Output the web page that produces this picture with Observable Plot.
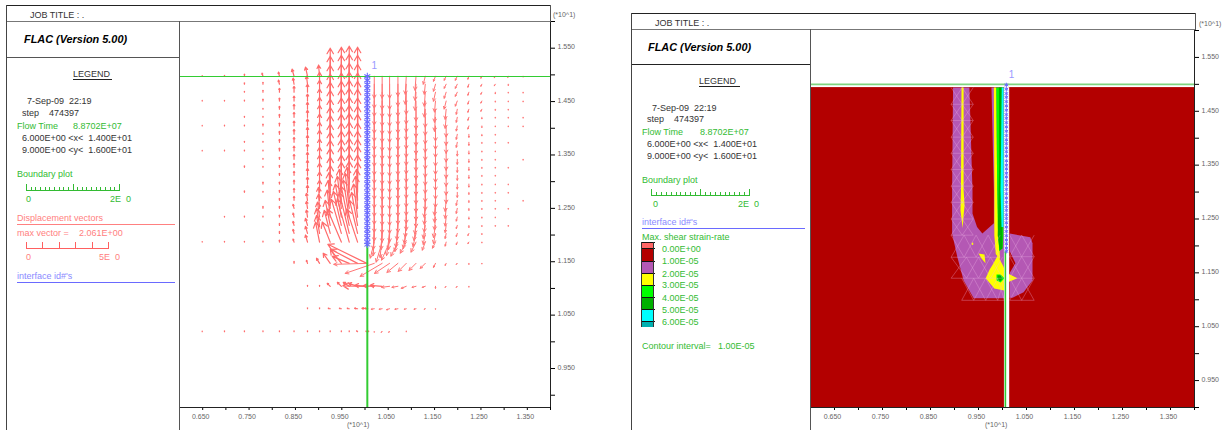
<!DOCTYPE html>
<html><head><meta charset="utf-8">
<script src="https://cdn.jsdelivr.net/npm/d3@7"></script>
<script src="https://cdn.jsdelivr.net/npm/@observablehq/plot@0.6"></script>
<style>
html,body{margin:0;padding:0;background:#fff}
#page{position:relative;width:1230px;height:430px;overflow:hidden;font-family:"Liberation Sans",Arial,sans-serif}
.t{position:absolute;white-space:pre;font-size:9px;line-height:12px;color:#333}
.l{position:absolute}
</style></head><body><div id="page"></div>
<script>
const _ = null;
// ---------- axes ----------
const xMajor = [6.5,7.5,8.5,9.5,10.5,11.5,12.5,13.5];
const xMinor = [6,7,8,9,10,11,12,13,14];
const yMajor = [9.5,10.5,11.5,12.5,13.5,14.5,15.5];
const yMinor = [9,10,11,12,13,14,15,16];
// ---------- left panel: displacement vectors (nodes of the grid) ----------
const rowsY = [14.975,14.825,14.675,14.51,14.356,14.206,14.043,13.887,13.737,13.574,13.419,13.269,13.119,12.955,12.80,12.65,12.50,12.337,12.18,12.03,11.868,11.47,11.04,10.62,10.19];
const colsX = [6.49,6.97,7.40,7.80,8.155,8.47,8.76,9.02,9.25,9.49,9.66,9.84,10.04,10.06,10.20,10.37,10.53,10.71,10.89,11.10,11.30,11.52,11.75,11.99,12.24,12.52,12.81,13.09,13.41];
const vectorRise = [
[.6,_,_,.6,_,_,.6,_,_,.6,_,_,_,_,_,_,_,_,_,_,.6,_,_,_,.6],
[.8,_,_,.8,_,_,.8,_,_,.8,_,_,_,_,_,_,_,.8,_,_,.8,_,_,_,.8],
[2,1.5,1,1,_,1,1,_,1,1,_,1.5,_,_,1.5,_,_,1,_,_,.8,_,_,_,.8],
[3,2,2,2,1,1,2,1,1,1,1,1,_,2,1,_,2,1,_,_,1,_,_,_,.8],
[4,4,4,3,3,3,3,3,3,3,2,2,2,2,2,2,2,2,2,2,2,_,_,_,.8],
[7,6,6,5,5,5,5,5,5,5,5,4,4,4,4,4,4,4,4,4,3,2,_,_,.8],
[9,8,8,7,7,7,7,7,7,7,7,7,7,7,7,7,7,7,7,7,7,3,1,1,.8],
[11,12,12,12,12,12,12,12,12,12,12,12,12,12,12,13,14,15,17,18,20,5,1,1,.8],
[28,28,27,27,27,27,27,27,27,27,27,27,27,27,27,28,28,27,25,23,20,10,3,.5,.8],
[29,29,28,28,28,28,28,28,28,28,28,28,29,29,30,31,32,33,34,34,33,14,4,.5,.8],
[30,30,29,29,29,29,29,29,29,29,29,29,30,30,31,33,35,37,39,41,43,7,4,.5,.8],
[29,29,28,28,28,28,28,28,28,28,28,28,29,29,30,31,32,33,33,33,33,14,3,.5,.8],
[_,_,_,_,_,_,_,_,_,_,_,_,_,_,_,_,_,_,_,_,_,19,1,.5,.5],
[_,_,_,_,_,_,_,_,_,_,_,_,_,_,_,_,_,_,_,_,_,-1,.5,.5,.5],
[-22,-24,-24,-24,-24,-24,-24,-24,-24,-24,-24,-24,-24,-24,-24,-24,-24,-24,-24,-22,-16,-10,.5,-.5,-.5],
[-22,-25,-25,-25,-25,-25,-25,-25,-25,-25,-25,-25,-25,-25,-25,-25,-25,-25,-24,-24,-20,-13,1,-.5,-.5],
[-22,-25,-25,-25,-25,-25,-25,-25,-25,-25,-25,-25,-25,-25,-25,-25,-25,-25,-24,-22,-18,-10,-1,-1,-.5],
[-20,-22,-24,-24,-24,-24,-24,-24,-24,-24,-24,-24,-24,-24,-24,-24,-24,-23,-22,-18,-14,-9,-1,-.5,_],
[-18,-20,-22,-23,-23,-23,-23,-23,-23,-23,-23,-23,-23,-23,-23,-23,-22,-20,-18,-15,-11,-8,-2,-.5,.5],
[-14,-16,-18,-20,-20,-20,-20,-20,-20,-20,-20,-20,-20,-20,-20,-20,-19,-17,-15,-13,-10,-7,-1,-.5,_],
[-8,-10,-14,-16,-18,-18,-18,-18,-18,-18,-18,-18,-18,-18,-18,-17,-16,-15,-13,-11,-8,-5,-1,-.5,_],
[-5,-7,-9,-11,-13,-14,-15,-15,-15,-15,-15,-15,-15,-15,-15,-15,-14,-13,-12,-10,-6,-4,-2,-.5,_],
[-4,-4,-6,-8,-10,-11,-11,-11,-11,-11,-11,-11,-11,-11,-11,-11,-10,-9,-7,-5,-4,-2,-1,_,_],
[-4,-4,-4,-5,-5,-5,-5,-5,-5,-5,-5,-5,-5,-5,-5,-5,-5,-4,-3,-3,-2.5,-1,-1,_,_],
[-3,-3,-3,-3,-3,-3,-3,-3,-3,-3,-3,-3,-3,-3,-2,-2,-2,-2,-2,-2,-1.5,-1,-.8,_,_],
[-2,-2,-2,-2,-2,-1.5,-1.5,-1.5,-1,-1,-1,-1,-1,-1,-1,-1,-1,-1,-1,-1,-.8,-.6,_,_,_],
[-1.5,-1.5,-1.5,-1,-1,-.8,-.8,-.8,-.8,-.8,-.8,-.8,-.8,-.8,-.8,-.8,-.8,-.8,-.8,_,_,_,_,_,_],
[-1.2,-1.2,-.8,-.8,-.8,-.8,-.8,_,-.8,_,_,-.8,_,-.8,-.8,_,-.8,_,-.8,_,_,_,_,_,_],
[-.8,_,-.8,-.8,_,-.8,-.8,_,_,_,-.8,_,_,_,_,-.8,_,_,_,_,_,_,_,_,_]
];
const vectorRun = [
[],[],[],
[-1],
[-1,-1],
[-2,-1,0,0,0,0,0,0,0,0,0,0,0,0,0,0,-1,-1,-1,-1,-1],
[-2,-1,0,0,0,0,0,0,0,0,0,0,0,0,0,-1,-1,-1,-2,-2,-2,-1],
[-1,0,0,0,0,0,0,0,0,0,0,0,0,0,0,-1,-1,-2,-3,-3,-4,-3],
[0,0,0,0,0,0,0,0,0,0,0,0,0,0,0,-1,-2,-3,-5,-6,-8,-7,-3,-2,0],
[0,0,0,0,0,0,0,0,0,0,0,0,0,0,0,-2,-4,-6,-8,-10,-14,-11,-4,-2,0],
[0,0,0,0,0,0,0,0,0,0,0,0,0,0,0,-2,-4,-6,-8,-10,-12,-17,-6,-2,0],
[0,0,0,0,0,0,0,0,0,0,0,0,0,0,0,-1,-2,-4,-6,-8,-11,-27,-9,-3,-1],
[0,0,0,0,0,0,0,0,0,0,0,0,0,0,0,0,0,0,0,0,0,-39,-12,-5,-1],
[0,0,0,0,0,0,0,0,0,0,0,0,0,0,0,0,0,0,0,0,0,-34,-25,-3,1],
[0,0,0,0,0,0,0,0,0,0,0,0,0,0,0,0,0,0,-1,-1,-4,-29,-11,-3,0],
[0,0,0,0,0,0,0,0,0,0,0,0,0,0,0,0,0,0,-1,-2,-6,-22,-12,-3,-1],
[0,0,0,0,0,0,0,0,0,0,0,0,0,0,0,0,0,0,-1,-3,-8,-15,-8,-3,-1],
[0,0,0,0,0,0,0,0,0,0,0,0,0,0,0,0,0,-1,-2,-3,-7,-11,-6,-3,0],
[-1,-1,0,0,0,0,0,0,0,0,0,0,0,0,0,0,0,-1,-2,-3,-6,-8,-5,-2,0],
[-1,-1,-1,0,0,0,0,0,0,0,0,0,0,0,0,0,0,-1,-2,-3,-5,-7,-4,-2,0],
[-2,-1,-1,-1,0,0,0,0,0,0,0,0,0,0,0,-1,-1,-1,-2,-2,-3,-5,-3,-1,0],
[-2,-2,-2,-1,-1,-1,0,0,0,0,0,0,0,0,0,-1,-1,-1,-2,-2,-3,-2,0,0],
[-2,-2,-2,-2,-1,-1,0,0,0,0,0,0,0,0,0,-1,-1,-1,-1,-1,-1,-1,-1],
[-2,-2,-2,-2,-1,-1,-1,-1,-1,0,0,0,0,0,0,-1,-1,-1,-1,-1,-1,-1,-1],
[-1,-1,-1,-1,-1,-1,-1,0,0,0,0,0,0,0,0,0,0,0,0,-1,-1],
[-1,-1,-1,-1,-1],[-1,-1],[-.5],[]
];
const interfaceLeftY = [14.975,14.9,14.82,14.75,14.67,14.59,14.51,14.43,14.36,14.28,14.2,14.12,14.04,13.96,13.89,13.81,13.74,13.66,13.57,13.49,13.42,13.34,13.27,13.19,13.12,13.04,12.96,12.88,12.8,12.72,12.65,12.57,12.5,12.42,12.34,12.26,12.18,12.1,12.03,11.95,11.87,11.82];
const interfaceRightY = [14.99,14.91,14.83,14.76,14.68,14.6,14.52,14.44,14.37,14.29,14.21,14.13,14.05,13.97,13.9,13.82,13.75,13.67,13.58,13.5,13.43,13.35,13.28,13.2,13.13,13.05,12.97,12.89,12.81,12.73,12.66,12.58,12.51,12.43,12.35,12.27,12.19,12.11,12.04,11.96,11.9];
const arrowUnitX = 1/46.4, arrowUnitY = 1/53.33;
const vectors = colsX.flatMap((x,c)=>rowsY.flatMap((y,r)=>{
  const rise = vectorRise[c][r]; if (rise===null||rise===undefined) return [];
  const run = vectorRun[c][r] ?? 0;
  return [{x1:x,y1:y,x2:x+run*arrowUnitX,y2:y+rise*arrowUnitY}];
}));
const upVectors = vectors.filter(v=>v.y2>=v.y1), downVectors = vectors.filter(v=>v.y2<v.y1);
// ---------- right panel: strain-rate contours ----------
const bandColors = ["#ff6666","#b30000","#b458b4","#ffff00","#00ff00","#00b000","#00ffff","#00b0b0"];
const bandLabels = ["0.00E+00","1.00E-05","2.00E-05","3.00E-05","4.00E-05","5.00E-05","6.00E-05"];
const zonePurple = [[8.97,14.94],[9.31,14.94],[9.375,13.03],[9.375,12.6],[9.47,12.35],[9.58,12.23],[9.82,12.42],[9.82,13.03],[9.77,14.94],[10.04,14.94],[10.04,11.03],[9.4,11.03],[9.19,11.36],[9.06,11.79],[8.95,12.23],[8.95,13.03]];
const zonePurpleRight = [[10.15,12.23],[10.58,12.16],[10.625,12.05],[10.625,11.36],[10.44,11.14],[10.21,11.04],[10.15,11.04]];
const zoneNotch = [[10.14,11.92],[10.27,11.68],[10.13,11.47]];
const zoneYellowA = [[9.146,14.94],[9.19,14.94],[9.19,13.03],[9.21,12.75],[9.19,12.57],[9.17,12.33],[9.125,12.66],[9.135,13.03]];
const zoneYellowB = [[9.9,11.82],[10.02,11.62],[10.06,11.51],[10.31,11.4],[10.1,11.32],[10.06,11.17],[9.83,11.21],[9.65,11.4],[9.73,11.56],[9.8,11.66]];
const zoneYellowC = [[9.5,11.86],[9.625,11.84],[9.646,11.68],[9.56,11.77]];
const zoneYellowD = [[9.36,12.06],[9.39,12.06],[9.39,12.02],[9.36,12.02]];
const zoneYellowE = [[9.82,14.94],[9.87,14.94],[9.89,13.03],[9.92,12.2],[9.95,11.75],[9.86,11.85],[9.83,12.2],[9.83,13.03]];
const zoneLime = [[9.87,14.94],[10.02,14.94],[10.02,13.03],[10.02,12.2],[10,11.95],[9.93,11.9],[9.9,12.4],[9.89,13.03]];
const zoneGreen = [[9.925,14.94],[9.985,14.94],[9.98,13.5],[10,12.2],[10,11.95],[9.94,11.92],[9.9,12.2],[9.93,13.5]];
const zoneCyan = [[9.985,14.94],[10.02,14.94],[10.02,13.03],[10.02,12.35],[9.98,12.35],[9.96,13.03]];
const zoneLimeBlob = [[9.875,11.47],[9.96,11.47],[10.04,11.4],[9.96,11.32],[9.875,11.36]];
const zoneGreenBlob = [[9.9,11.45],[9.97,11.45],[10,11.4],[9.96,11.35],[9.9,11.37]];
const zones = [
 [zonePurple,bandColors[2]],[zonePurpleRight,bandColors[2]],[zoneNotch,bandColors[1]],
 [zoneYellowA,bandColors[3]],[zoneYellowB,bandColors[3]],[zoneYellowC,bandColors[3]],[zoneYellowD,bandColors[3]],[zoneYellowE,bandColors[3]],
 [zoneLime,bandColors[4]],[zoneGreen,bandColors[5]],[zoneCyan,bandColors[6]],[zoneLimeBlob,bandColors[4]],[zoneGreenBlob,bandColors[5]]
].flatMap(([pts,fill],id)=>pts.map(([x,y])=>({id,x,y,fill})));
// mesh of the plastic zone
const meshBlocks = [
 {xs:[8.93,9.16,9.39],ys:[14.94,14.63,14.33,14.02,13.72,13.42,13.11,12.81,12.5,12.2]},
 {xs:[8.93,9.2,9.45,9.7,9.95],ys:[12.2,11.79]},
 {xs:[8.93,9.25,9.5,9.75,10.0],ys:[11.79,11.4]},
 {xs:[9.15,9.4,9.65,9.9,10.04],ys:[11.4,10.99]},
 {xs:[10.15,10.4,10.66],ys:[12.2,11.8,11.4,10.99]}
];
const meshLinks = meshBlocks.flatMap(({xs,ys})=>xs.slice(1).flatMap((x,i)=>ys.slice(1).flatMap((y,j)=>{
  const a=xs[i],t=ys[j];
  return [{x1:a,y1:t,x2:x,y2:y},{x1:x,y1:t,x2:a,y2:y},{x1:a,y1:y,x2:x,y2:y}];
})));
// ---------- shared marks ----------
const ink="#666", green="#33cc33", blue="#6a6aff";
const axes = (xb)=>[
  Plot.axisX({ticks:[...xMajor,...xMinor],tickFormat:()=>"",tickSize:3,tickPadding:0,fontSize:0,label:null}),
  Plot.axisX({ticks:xMajor,tickFormat:v=>(v/10).toFixed(3),tickSize:0,tickPadding:7,dx:-2,fontSize:7,fill:ink,label:null}),
  Plot.axisY({anchor:"right",ticks:[...yMajor,...yMinor],tickFormat:()=>"",tickSize:4,tickPadding:0,fontSize:0,label:null}),
  Plot.axisY({anchor:"right",ticks:yMajor,tickFormat:v=>(v/10).toFixed(3),tickSize:0,tickPadding:7,dy:-1,fontSize:7,fill:ink,label:null}),
  Plot.ruleX([14],{stroke:"#222"}),
  Plot.ruleY([xb],{stroke:"#222"})
];
const page=document.getElementById("page");
const left=Plot.plot({width:411,height:430,marginLeft:0,marginRight:40,marginTop:21,marginBottom:23,
  x:{domain:[6,14],axis:null},y:{domain:[8.77,16],axis:null},
  style:{position:"absolute",left:"179px",top:"0px",background:"transparent",fontFamily:"Liberation Sans"},
  marks:[
    Plot.arrow(upVectors,{x1:"x1",y1:"y1",x2:"x2",y2:"y2",stroke:"#ff6b6b",strokeWidth:1.2,headLength:8,headAngle:60}),
    Plot.arrow(downVectors,{x1:"x1",y1:"y1",x2:"x2",y2:"y2",stroke:"#ff7676",strokeWidth:1,headLength:5.5,headAngle:55}),
    Plot.ruleY([14.97],{stroke:green,strokeWidth:1.2}),
    Plot.ruleX([10.05],{y1:11.84,y2:8.77,stroke:green,strokeWidth:2}),
    Plot.ruleX([10.05],{y1:14.975,y2:11.82,stroke:blue,strokeWidth:1.6}),
    Plot.dot(interfaceLeftY,{x:()=>10.05,y:d=>d,symbol:"asterisk",r:3.2,stroke:blue,strokeWidth:1.1}),
    Plot.text(["1"],{x:()=>10.2,y:()=>15.17,fill:"#9999ff",fontSize:10}),
    ...axes(8.77)
  ]});
const right=Plot.plot({width:420,height:430,marginLeft:0,marginRight:36,marginTop:30,marginBottom:23,
  x:{domain:[6,14],axis:null},y:{domain:[9,16],axis:null},
  style:{position:"absolute",left:"810px",top:"0px",background:"transparent",fontFamily:"Liberation Sans"},
  marks:[
    Plot.rectY([0],{x1:6,x2:14,y1:9,y2:14.94,fill:bandColors[1]}),
    Plot.line(zones,{x:"x",y:"y",z:"id",fill:"fill",stroke:null,curve:"linear-closed"}),
    Plot.link(meshLinks,{x1:"x1",y1:"y1",x2:"x2",y2:"y2",stroke:"#eeb6e6",strokeWidth:.7,strokeOpacity:.45}),
    Plot.rectY([0],{x1:10.04,x2:10.15,y1:9,y2:14.94,fill:"#fff"}),
    Plot.ruleY([15],{stroke:"#7fd47f",strokeWidth:1.6}),
    Plot.ruleX([10.06],{y1:11.9,y2:9,stroke:green,strokeWidth:1.6}),
    Plot.dot(interfaceRightY,{x:()=>10.08,y:d=>d,symbol:"asterisk",r:2,stroke:blue,strokeWidth:1}),
    Plot.text(["1"],{x:()=>10.19,y:()=>15.17,fill:"#9999ff",fontSize:10}),
    ...axes(9)
  ]});
page.append(left,right);
// ---------- panel furniture ----------
function line(x,y,w,h,c){const d=document.createElement("div");d.className="l";d.style.cssText=`left:${x}px;top:${y}px;width:${w}px;height:${h}px;background:${c}`;page.append(d);}
function txt(s,x,y,c,extra){const d=document.createElement("div");d.className="t";d.textContent=s;d.style.cssText=`left:${x}px;top:${y-6}px;${c?`color:${c};`:""}${extra||""}`;page.append(d);}
function ruler(x,y,w,n,c,major){for(let i=0;i<=n;i++){const big=i===0||i===n||(major&&i===n/2)||!major;const h=big?6:3;line(x+w*i/n,y-h,1,h,c);}line(x,y,w+1,1,c);}
const gText="#33bb33", rText="#ff8080", bText="#8a8aff";
const fileStamp="7-Sep-09  22:19", stepCount="474397", flowTime="8.8702E+07";
const xRangeLabel="6.000E+00 <x<  1.400E+01", yRangeLabel="9.000E+00 <y<  1.600E+01";
// left
line(6,5,545,1.4,"#222");line(6,21,545,1,"#777");line(6,57,173,1,"#555");
line(6,5,1.2,425,"#444");line(179,21,1.2,409,"#555");line(550,5,1,17,"#555");
txt("JOB TITLE : .",30,15);
txt("FLAC (Version 5.00)",24,39,"#000","font:italic bold 10.9px 'Liberation Sans';");
txt("LEGEND",73,74);line(73,79,39,1,"#222");
txt(fileStamp,27,101);txt("step",22,113);txt(stepCount,49,113);
txt("Flow Time",17,126,gText);txt(flowTime,73,126,gText);
txt(xRangeLabel,22,138);txt(yRangeLabel,22,150);
txt("Boundary plot",17,174,gText);ruler(26,190,93,20,gText,true);
txt("0",26,199,gText);txt("2E  0",110,199,gText);
txt("Displacement vectors",17,218,rText);line(17,224,158,1,"#ff8080");
txt("max vector =",17,233,rText);txt("2.061E+00",79,233,rText);
ruler(26,248,82,5,"#ff6060",false);
txt("0",26,257,rText);txt("5E  0",99,257,rText);
txt("interface id#'s",17,276,bText);line(17,282,158,1,blue);
txt("(*10^1)",553,15,ink,"font-size:7px;");
txt("(*10^1)",347,425,ink,"font-size:7px;");
// right
line(631,13,565,1.4,"#222");line(631,29,565,1,"#777");line(631,64,179,1,"#222");
line(631,13,1.2,417,"#444");line(810,29,1.2,401,"#555");line(1195,13,1,17,"#555");
txt("JOB TITLE : .",655,23);
txt("FLAC (Version 5.00)",648,47,"#000","font:italic bold 10.9px 'Liberation Sans';");
txt("LEGEND",699,81);line(699,86,41,1,"#222");
txt(fileStamp,652,108);txt("step",647,119);txt(stepCount,674,119);
txt("Flow Time",642,132,gText);txt(flowTime,700,132,gText);
txt(xRangeLabel,647,144);txt(yRangeLabel,647,156);
txt("Boundary plot",642,180,gText);ruler(651,195,98,20,gText,true);
txt("0",653,204,gText);txt("2E  0",738,204,gText);
txt("interface id#'s",642,222,bText);line(642,228,163,1,blue);
txt("Max. shear strain-rate",642,237,gText);
const swatchTop=[242,248,261,273,285,297,309,321,327];
bandColors.forEach((c,i)=>{line(641,swatchTop[i],12,swatchTop[i+1]-swatchTop[i],c);line(641,swatchTop[i],14,1,"#111");});
line(641,242,1,85,"#333");line(653,242,1,85,"#333");
const bandY=[249,261,274,285,298,310,322];
bandLabels.forEach((s,i)=>txt(s,662,bandY[i],gText));
txt("Contour interval=",642,346,gText);txt("1.00E-05",718,346,gText);
txt("(*10^1)",1199,24,ink,"font-size:7px;");
txt("(*10^1)",985,425,ink,"font-size:7px;");
</script></body></html>
